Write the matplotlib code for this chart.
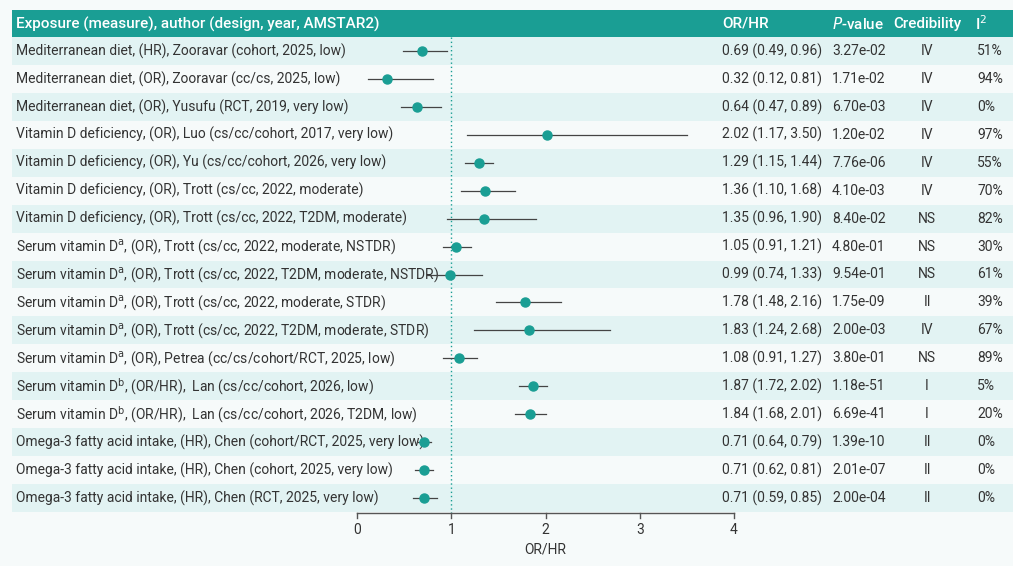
import matplotlib
matplotlib.use("Agg")
import matplotlib.pyplot as plt
from matplotlib.patches import Rectangle

labels = [
 "Mediterranean diet, (HR), Zooravar (cohort, 2025, low)",
 "Mediterranean diet, (OR), Zooravar (cc/cs, 2025, low)",
 "Mediterranean diet, (OR), Yusufu (RCT, 2019, very low)",
 "Vitamin D deficiency, (OR), Luo (cs/cc/cohort, 2017, very low)",
 "Vitamin D deficiency, (OR), Yu (cs/cc/cohort, 2026, very low)",
 "Vitamin D deficiency, (OR), Trott (cs/cc, 2022, moderate)",
 "Vitamin D deficiency, (OR), Trott (cs/cc, 2022, T2DM, moderate)",
 "Serum vitamin D$^{\\rm a}$, (OR), Trott (cs/cc, 2022, moderate, NSTDR)",
 "Serum vitamin D$^{\\rm a}$, (OR), Trott (cs/cc, 2022, T2DM, moderate, NSTDR)",
 "Serum vitamin D$^{\\rm a}$, (OR), Trott (cs/cc, 2022, moderate, STDR)",
 "Serum vitamin D$^{\\rm a}$, (OR), Trott (cs/cc, 2022, T2DM, moderate, STDR)",
 "Serum vitamin D$^{\\rm a}$, (OR), Petrea (cc/cs/cohort/RCT, 2025, low)",
 "Serum vitamin D$^{\\rm b}$, (OR/HR),  Lan (cs/cc/cohort, 2026, low)",
 "Serum vitamin D$^{\\rm b}$, (OR/HR),  Lan (cs/cc/cohort, 2026, T2DM, low)",
 "Omega-3 fatty acid intake, (HR), Chen (cohort/RCT, 2025, very low)",
 "Omega-3 fatty acid intake, (HR), Chen (cohort, 2025, very low)",
 "Omega-3 fatty acid intake, (HR), Chen (RCT, 2025, very low)",
]
est = [0.69,0.32,0.64,2.02,1.29,1.36,1.35,1.05,0.99,1.78,1.83,1.08,1.87,1.84,0.71,0.71,0.71]
lo  = [0.49,0.12,0.47,1.17,1.15,1.10,0.96,0.91,0.74,1.48,1.24,0.91,1.72,1.68,0.64,0.62,0.59]
hi  = [0.96,0.81,0.89,3.50,1.44,1.68,1.90,1.21,1.33,2.16,2.68,1.27,2.02,2.01,0.79,0.81,0.85]
pvals = ["3.27e-02","1.71e-02","6.70e-03","1.20e-02","7.76e-06","4.10e-03","8.40e-02","4.80e-01",
         "9.54e-01","1.75e-09","2.00e-03","3.80e-01","1.18e-51","6.69e-41","1.39e-10","2.01e-07","2.00e-04"]
cred = ["IV","IV","IV","IV","IV","IV","NS","NS","NS","II","IV","NS","I","I","II","II","II"]
i2 = ["51%","94%","0%","97%","55%","70%","82%","30%","61%","39%","67%","89%","5%","20%","0%","0%","0%"]
ticks = [0,1,2,3,4]

plt.rcParams['font.family'] = ['Roboto','DejaVu Sans']
W, H = 1013, 566
fig = plt.figure(figsize=(W/100, H/100), dpi=100, facecolor='#f6fafa')
ax = fig.add_axes([0,0,1,1])
ax.set_facecolor('#f6fafa')
x0, s = 357, 94.25
ax.set_xlim(-x0/s, (W-x0)/s)
ax.set_ylim(H, 0)
ax.axis('off')
tr = ax.get_yaxis_transform()
fx = lambda p: p/W

teal = '#1a9e94'
ax.add_patch(Rectangle((fx(12), 10), fx(1013)-fx(12), 27, transform=tr, color=teal, lw=0))
hy = 24
ax.text(fx(16), hy, "Exposure (measure), author (design, year, AMSTAR2)", transform=tr, color='white', fontsize=11, va='center', fontweight='medium')
ax.text(fx(722), hy, "OR/HR", transform=tr, color='white', fontsize=11, va='center', fontweight='medium')
ax.text(fx(832), hy, "$\\it{P}$-value", transform=tr, color='white', fontsize=11, va='center', fontweight='medium')
ax.text(fx(927), hy, "Credibility", transform=tr, color='white', fontsize=11, va='center', ha='center', fontweight='medium')
ax.text(fx(975), hy, "I$^2$", transform=tr, color='white', fontsize=11, va='center', fontweight='medium')

step = (498-51)/16
for i in range(len(labels)):
    y = 51 + i*step
    if i % 2 == 0:
        ax.add_patch(Rectangle((fx(12), y-step/2), fx(1013)-fx(12), step, transform=tr, color='#e2f3f3', lw=0))
    ax.text(fx(16), y, labels[i], transform=tr, fontsize=10, va='center', color='#333333')
    ax.text(fx(722), y, f"{est[i]:.2f} ({lo[i]:.2f}, {hi[i]:.2f})", transform=tr, fontsize=10, va='center', color='#333333')
    ax.text(fx(832), y, pvals[i], transform=tr, fontsize=10, va='center', color='#333333')
    ax.text(fx(927), y, cred[i], transform=tr, fontsize=10, va='center', ha='center', color='#333333')
    ax.text(fx(977), y, i2[i], transform=tr, fontsize=10, va='center', color='#333333')
    ax.plot([lo[i], hi[i]], [y, y], color='#444444', lw=0.9, zorder=3)
    ax.plot(est[i], y, 'o', color=teal, ms=6.5, zorder=4)

ax.plot([1,1],[37,513], ls=(0,(1,2)), color=teal, lw=1, zorder=2)
ax.plot([0,4],[513,513], color='#555555', lw=1)
for t in ticks:
    ax.plot([t,t],[513,518], color='#555555', lw=1)
    ax.text(t, 530, str(t), ha='center', va='center', fontsize=10, color='#333333')
ax.text(2, 550, "OR/HR", ha='center', va='center', fontsize=10, color='#333333')
fig.savefig("out.png", dpi=100, facecolor=fig.get_facecolor())
